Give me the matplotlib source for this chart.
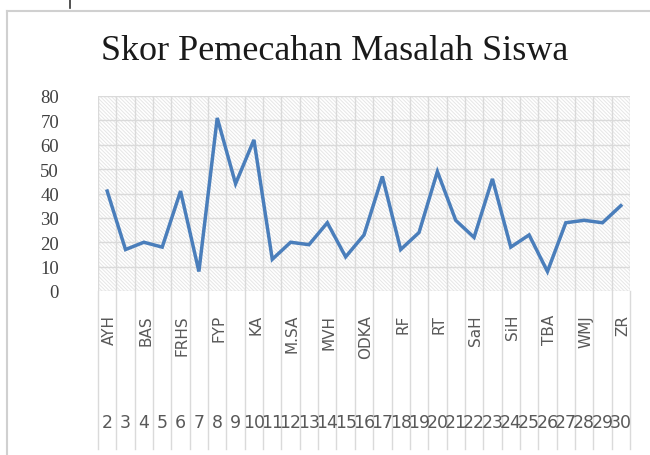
import matplotlib
matplotlib.use("Agg")
import matplotlib.pyplot as plt
from matplotlib.patches import Rectangle
import numpy as np

title = "Skor Pemecahan Masalah Siswa"
names = ["AYH", "", "BAS", "", "FRHS", "", "FYP", "", "KA", "", "M.SA", "", "MVH", "",
         "ODKA", "", "RF", "", "RT", "", "SaH", "", "SiH", "", "TBA", "", "WMJ", "", "ZR"]
numbers = list(range(2, 31))
scores = [41, 17, 20, 18, 41, 8, 71, 44, 62, 13, 20, 19, 28, 14, 23, 47, 17, 24, 49, 29,
          22, 46, 18, 23, 8, 28, 29, 28, 35]
yticks = [0, 10, 20, 30, 40, 50, 60, 70, 80]

plt.rcParams['hatch.color'] = '#e6e6e6'
plt.rcParams['hatch.linewidth'] = 0.7

W, H = 650, 456
fig = plt.figure(figsize=(W / 100, H / 100), dpi=100)
fig.patch.set_facecolor('white')

# outer chart border (left and top visible)
fig.add_artist(plt.Line2D([7 / W, 7 / W], [0, 1 - 12 / H], transform=fig.transFigure,
                          color='#d0d0d0', lw=1.5))
fig.add_artist(plt.Line2D([7 / W, 1], [1 - 12 / H, 1 - 12 / H], transform=fig.transFigure,
                          color='#d0d0d0', lw=1.5))
fig.add_artist(plt.Line2D([70 / W, 70 / W], [1, 1 - 9 / H], transform=fig.transFigure,
                          color='#333333', lw=1.2))

left, right, top, bottom = 98, 630, 97, 292
ax = fig.add_axes([left / W, 1 - bottom / H, (right - left) / W, (bottom - top) / H])
n = len(scores)
x = np.arange(n)
ax.set_xlim(-0.5, n - 0.5)
ax.set_ylim(0, 80)

# hatched background
ax.add_patch(Rectangle((0, 0), 1, 1, transform=ax.transAxes, facecolor='white',
                       hatch='\\' * 9, edgecolor='#e6e6e6', lw=0, zorder=0))

for v in yticks:
    ax.axhline(v, color='#dadada', lw=1.0, zorder=1)
for b in np.arange(-0.5, n, 1.0):
    ax.plot([b, b], [0, 1], transform=ax.get_xaxis_transform(), color='#dadada', lw=1.0,
            zorder=1)
    ax.plot([b, b], [0, -(450 - bottom) / (bottom - top)], transform=ax.get_xaxis_transform(),
            color='#dadada', lw=1.0, clip_on=False)

ax.plot(x, scores, color='#4a7ebb', lw=2.5, zorder=3, solid_joinstyle='miter')

for s in ax.spines.values():
    s.set_visible(False)
ax.set_xticks([])
ax.set_yticks(yticks)
ax.set_yticklabels([str(v) for v in yticks], family='Liberation Serif', fontsize=13.5,
                   color='#404040')
ax.tick_params(axis='y', length=0, pad=28)

trans = ax.get_xaxis_transform()
for i, nm in enumerate(names):
    if nm:
        ax.text(i + 0.1, -(315 - bottom) / (bottom - top), nm, rotation=90, ha='center',
                va='top', fontsize=11, color='#595959', transform=trans, clip_on=False,
                family='DejaVu Sans')
for i, num in enumerate(numbers):
    ax.text(i, -(423 - bottom) / (bottom - top), str(num), ha='center', va='center',
            fontsize=12.5, color='#595959', transform=trans, clip_on=False,
            family='DejaVu Sans')

fig.text(335 / W, 1 - 51 / H, title, ha='center', va='center', fontsize=26,
         family='Liberation Serif', color='#1a1a1a')

fig.savefig('out.png', dpi=100)
